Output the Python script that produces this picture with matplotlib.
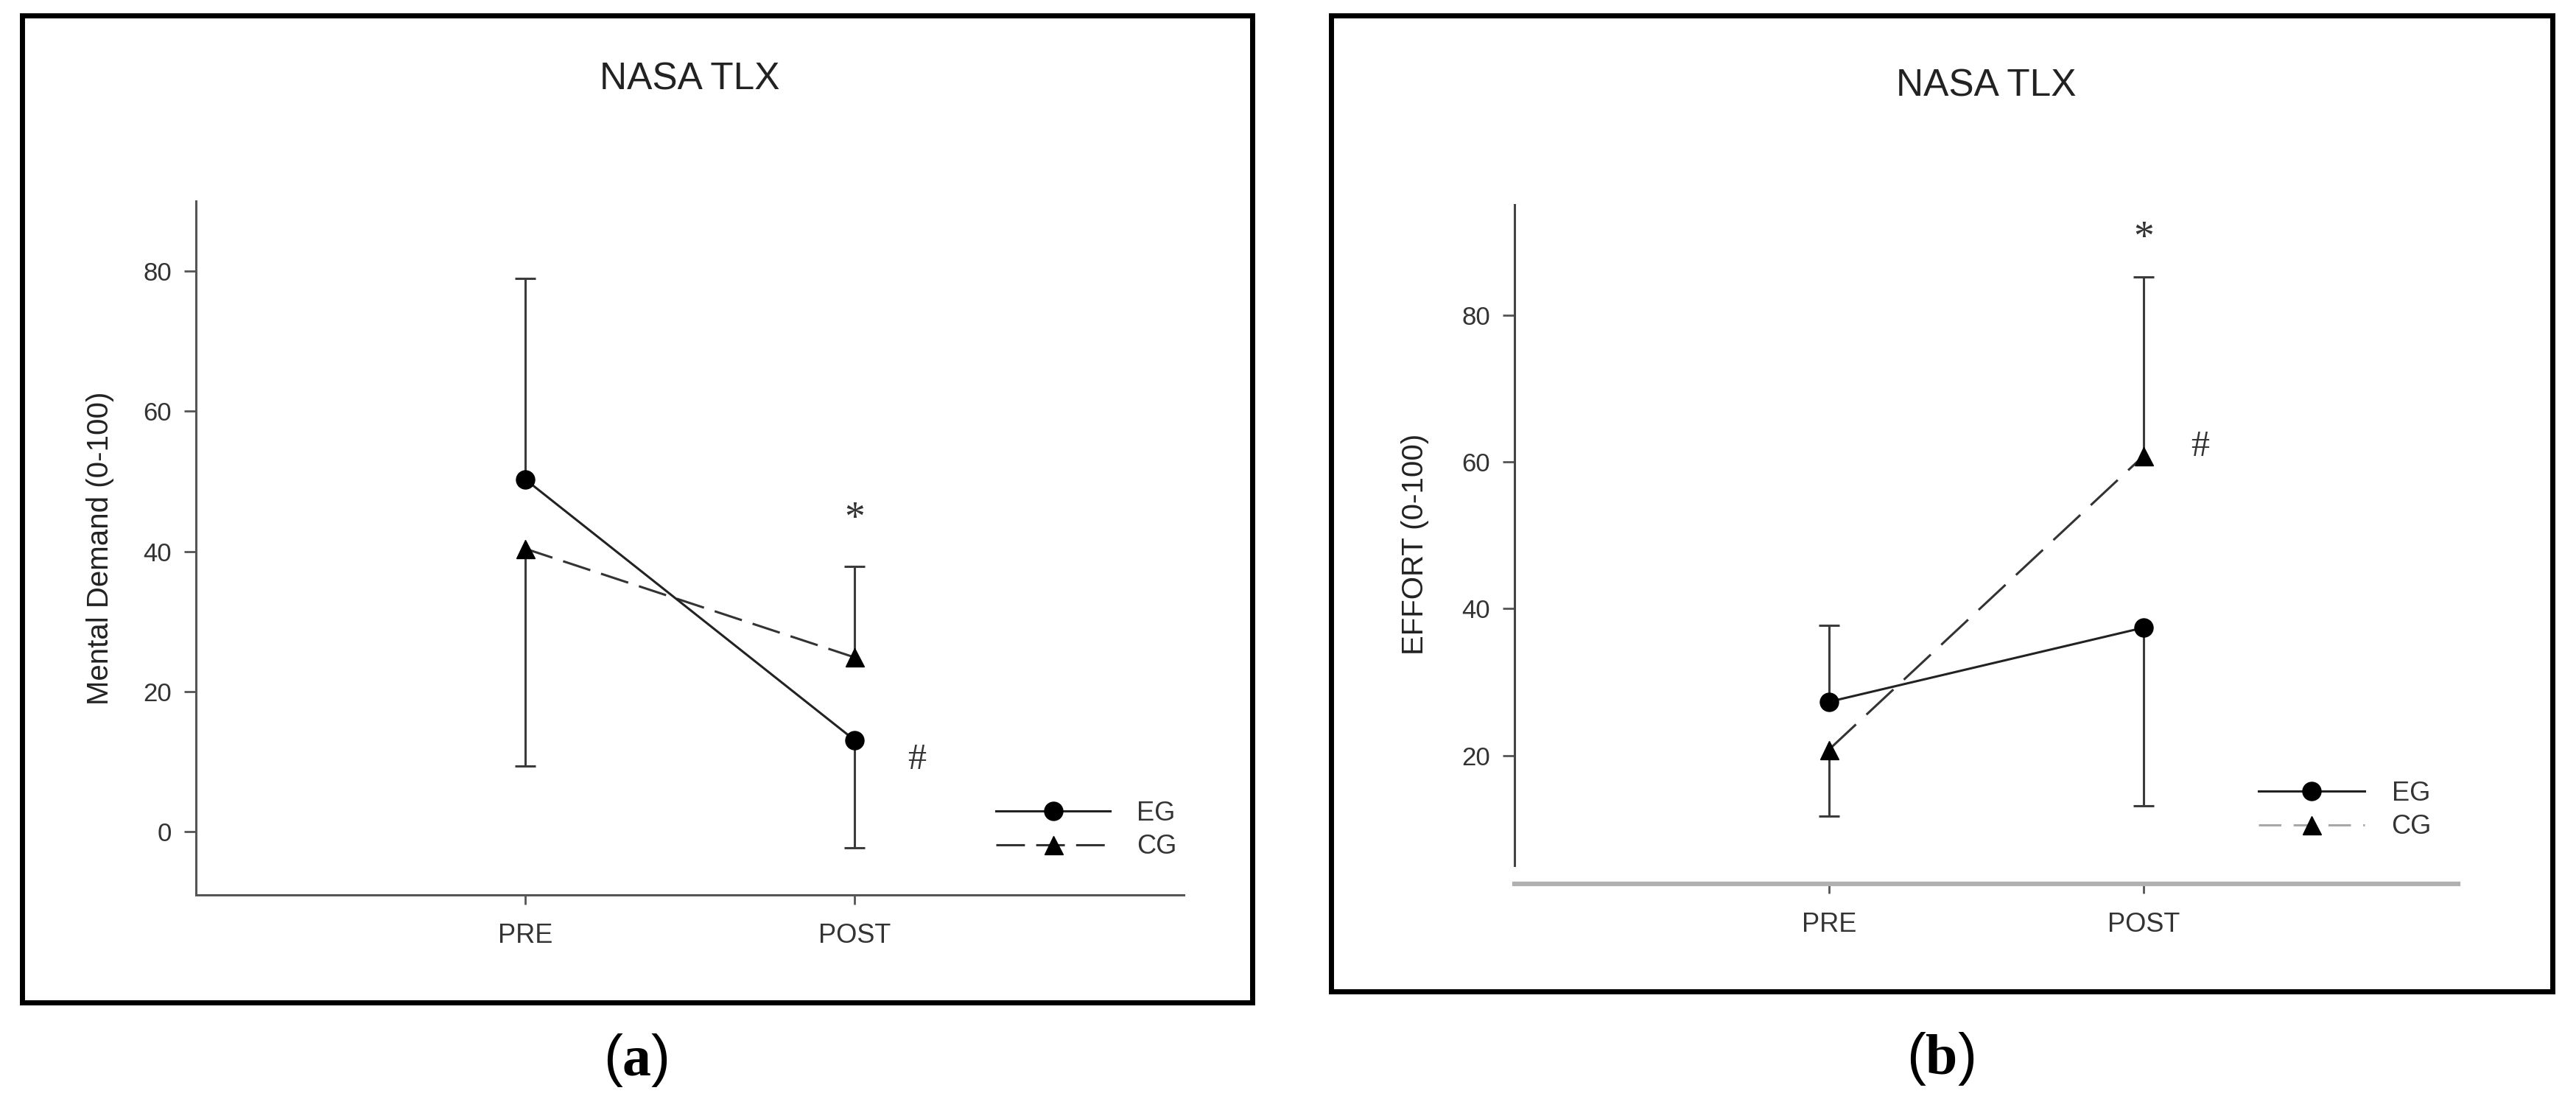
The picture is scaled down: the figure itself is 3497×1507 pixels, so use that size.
import numpy as np
import matplotlib
matplotlib.use('Agg')
import matplotlib.pyplot as plt
from matplotlib.patches import Rectangle

plt.rcParams['font.family'] = ['Liberation Sans', 'DejaVu Sans']
plt.rcParams['mathtext.fontset'] = 'custom'
plt.rcParams['mathtext.rm'] = 'Liberation Serif'
plt.rcParams['mathtext.bf'] = 'Liberation Serif:bold'
plt.rcParams['lines.scale_dashes'] = False

########## datos
momentos = ['PRE', 'POST']
grupos = ['EG', 'CG']

# (a) Mental Demand
eg_a = [50.3, 13.1]
cg_a = [40.4, 24.9]
eg_a_sd = [28.7, 15.4]
cg_a_sd = [31.0, 13.0]
estrella_a = [2, 46.4]
gato_a = [2.19, 10.7]

# (b) Effort
eg_b = [27.3, 37.4]
cg_b = [20.8, 60.8]
eg_b_sd = [10.4, 24.3]
cg_b_sd = [9.1, 24.4]
estrella_b = [2, 92.1]
gato_b = [2.18, 62.5]

W, H = 3497, 1507
fig = plt.figure(figsize=(W / 100, H / 100), dpi=100)


def rect(l, r, t, b):
    return [l / W, 1 - b / H, (r - l) / W, (b - t) / H]


def barras(ax, x, media, sd, otra, color):
    # solo se dibuja la barra hacia afuera (arriba el grupo mayor, abajo el menor)
    media = np.array(media)
    signo = np.where(media >= np.array(otra), 1, -1)
    punta = media + signo * np.array(sd)
    ax.vlines(x, media, punta, color=color, lw=2.2, zorder=2)
    ax.plot(x, punta, ls='none', marker='_', ms=20, mew=2.2, color=color, zorder=2)


def panel(ax, eg, cg, eg_sd, cg_sd, ylabel, ylab_x, dash, estrella, gato):
    x = np.arange(1, len(momentos) + 1)
    barras(ax, x, eg, eg_sd, cg, '#3c3c3c')
    barras(ax, x, cg, cg_sd, eg, '#3c3c3c')
    ax.plot(x, eg, color='#222222', lw=2.2, marker='o', ms=18, mfc='black', mec='black',
            label=grupos[0], zorder=4)
    ax.plot(x, cg, color='#333333', lw=2.2, dashes=dash, marker='^', ms=18, mfc='black',
            mec='black', label=grupos[1], zorder=3)
    ax.set_xlim(0, 3)
    ax.set_xticks(x)
    ax.set_xticklabels(momentos)
    for s in ['top', 'right']:
        ax.spines[s].set_visible(False)
    for s in ['left', 'bottom']:
        ax.spines[s].set_color('#555555')
        ax.spines[s].set_linewidth(2.2)
    ax.tick_params(axis='y', length=11.5, width=2, color='#555555', pad=12,
                   labelsize=25, labelcolor='#333333')
    ax.tick_params(axis='x', length=9.5, width=2, color='#555555', pad=18,
                   labelsize=26, labelcolor='#333333')
    ax.text(0.5, 1.175, 'NASA TLX', transform=ax.transAxes, ha='center', va='center',
            fontsize=37, color='#222222')
    ax.text(ylab_x, 0.5, ylabel, transform=ax.transAxes, rotation=90, ha='center',
            va='center', fontsize=29, color='#222222')
    # los signos se colocan por su centro visual
    ax.annotate('*', xy=(estrella[0], estrella[1]), xytext=(0, -23), textcoords='offset points',
                ha='center', va='baseline', fontsize=40, family='Liberation Serif',
                color='#333333')
    ax.annotate('#', xy=(gato[0], gato[1]), xytext=(0, -12), textcoords='offset points',
                ha='center', va='baseline', fontsize=36, family='Liberation Serif',
                color='#333333')


########## grafica (a)
ax1 = fig.add_axes(rect(266, 1607, 273, 1215))
panel(ax1, eg_a, cg_a, eg_a_sd, cg_a_sd, 'Mental Demand (0-100)', -0.097, (28, 11),
      estrella_a, gato_a)
ax1.set_ylim(-9, 90)
ax1.set_yticks([0, 20, 40, 60, 80])
ax1.legend(loc='center left', bbox_to_anchor=(1352 / W, 1 - 1127 / H),
           bbox_transform=fig.transFigure, frameon=False, fontsize=26, handlelength=4.3,
           handletextpad=1.0, labelspacing=0.3, borderpad=0, borderaxespad=0,
           labelcolor='#333333')

########## grafica (b)
ax2 = fig.add_axes(rect(2056, 3337, 278, 1200))
panel(ax2, eg_b, cg_b, eg_b_sd, cg_b_sd, 'EFFORT (0-100)', -0.105, (36, 14),
      estrella_b, gato_b)
ax2.set_ylim(2.5, 95)
ax2.set_yticks([20, 40, 60, 80])
ax2.spines['left'].set_bounds(5, 95)
ax2.spines['left'].set_color('#444444')
ax2.spines['bottom'].set_color('#b0b0b0')
ax2.spines['bottom'].set_linewidth(4.5)
leg = ax2.legend(loc='center left', bbox_to_anchor=(3066 / W, 1 - 1100 / H),
                 bbox_transform=fig.transFigure, frameon=False, fontsize=26, handlelength=4.0,
                 handletextpad=1.0, labelspacing=0.3, borderpad=0, borderaxespad=0,
                 labelcolor='#333333')
leg.get_lines()[1].set_color('#a8a8a8')
leg.get_lines()[1].set_dashes((22, 12))

########## marcos y letras
for l, r, t, b in [(30, 1700, 21, 1361), (1807, 3465, 21, 1346)]:
    fig.add_artist(Rectangle((l / W, 1 - b / H), (r - l) / W, (b - t) / H,
                             transform=fig.transFigure, fill=False, lw=5, ec='black'))
fig.text(863 / W, 1 - 1440 / H, r'($\mathbf{a}$)', ha='center', va='center', fontsize=56)
fig.text(2634 / W, 1 - 1437 / H, r'($\mathbf{b}$)', ha='center', va='center', fontsize=56)

plt.savefig('out.png', dpi=100)
